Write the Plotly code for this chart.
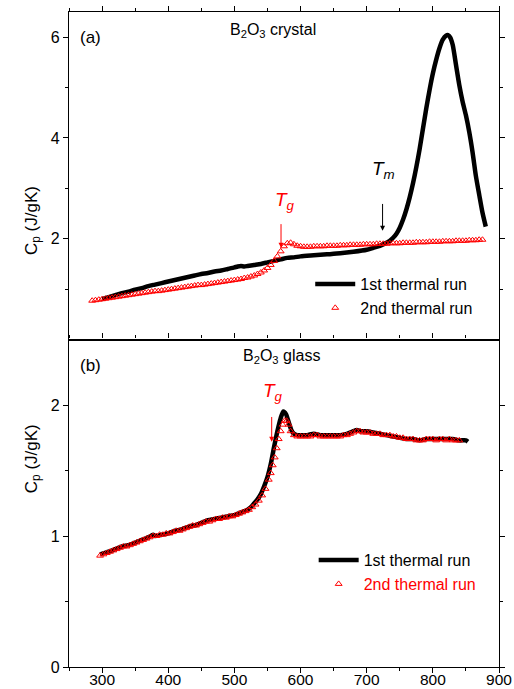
import plotly.graph_objects as go

# ---------------- data: panel (a) B2O3 crystal ----------------
a_run1_T = [300, 310, 320, 330, 340, 350, 360, 370, 380, 390, 400, 410, 420, 430, 440, 450,
            460, 470, 480, 490, 500, 505, 510, 515, 520, 530, 540, 550, 560, 570, 580, 590,
            600, 620, 640, 660, 680, 700, 710, 720, 730, 735, 740, 745, 750, 755, 760, 765,
            770, 775, 780, 785, 790, 795, 800, 805, 810, 815, 820, 823, 826, 830, 835, 840,
            845, 850, 855, 860, 865, 870, 875, 880]
a_run1_Cp = [0.80, 0.84, 0.88, 0.92, 0.95, 0.99, 1.02, 1.06, 1.09, 1.12, 1.15, 1.18, 1.21, 1.24, 1.27, 1.30,
             1.32, 1.35, 1.37, 1.40, 1.43, 1.45, 1.46, 1.45, 1.46, 1.48, 1.50, 1.53, 1.56, 1.59, 1.62, 1.63,
             1.65, 1.67, 1.69, 1.71, 1.74, 1.78, 1.82, 1.86, 1.92, 1.96, 2.02, 2.10, 2.22, 2.38, 2.58, 2.82,
             3.10, 3.42, 3.78, 4.18, 4.58, 4.95, 5.28, 5.55, 5.78, 5.95, 6.03, 6.04, 6.00, 5.85, 5.45, 5.05,
             4.72, 4.45, 4.12, 3.72, 3.25, 2.88, 2.52, 2.24]

a_run2_T = [285, 290, 295, 300, 305, 310, 315, 320, 325, 330, 335, 340, 345, 350, 355, 360,
            365, 370, 375, 380, 385, 390, 395, 400, 405, 410, 415, 420, 425, 430, 435, 440,
            445, 450, 455, 460, 465, 470, 475, 480, 485, 490, 495, 500, 505, 510, 515, 520,
            525, 530, 535, 540, 545, 550, 555, 560, 565, 570, 575, 580, 585, 590, 595, 600,
            605, 610, 615, 620, 625, 630, 635, 640, 645, 650, 655, 660, 665, 670, 675, 680,
            685, 690, 695, 700, 705, 710, 715, 720, 725, 730, 735, 740, 745, 750, 755, 760,
            765, 770, 775, 780, 785, 790, 795, 800, 805, 810, 815, 820, 825, 830, 835, 840,
            845, 850, 855, 860, 865, 870, 875]
a_run2_Cp = [0.77, 0.78, 0.79, 0.80, 0.81, 0.82, 0.83, 0.84, 0.85, 0.86, 0.87, 0.88, 0.89, 0.90, 0.91, 0.92,
             0.93, 0.94, 0.95, 0.96, 0.96, 0.97, 0.98, 0.99, 1.00, 1.01, 1.02, 1.03, 1.04, 1.05, 1.06, 1.07,
             1.08, 1.08, 1.09, 1.10, 1.11, 1.12, 1.13, 1.14, 1.15, 1.16, 1.17, 1.18, 1.19, 1.20, 1.22, 1.23,
             1.25, 1.27, 1.30, 1.33, 1.37, 1.42, 1.48, 1.56, 1.65, 1.75, 1.85, 1.91, 1.92, 1.89, 1.86, 1.85,
             1.84, 1.84, 1.84, 1.85, 1.85, 1.85, 1.85, 1.86, 1.86, 1.86, 1.86, 1.87, 1.87, 1.87, 1.88, 1.88,
             1.88, 1.88, 1.89, 1.89, 1.89, 1.89, 1.90, 1.90, 1.90, 1.90, 1.91, 1.91, 1.91, 1.91, 1.92, 1.92,
             1.92, 1.92, 1.93, 1.93, 1.93, 1.93, 1.94, 1.94, 1.94, 1.94, 1.95, 1.95, 1.95, 1.95, 1.96, 1.96,
             1.96, 1.96, 1.97, 1.97, 1.97, 1.98, 1.98]

# ---------------- data: panel (b) B2O3 glass ----------------
b_run1_T = [297, 310, 320, 330, 340, 350, 360, 370, 377, 380, 390, 400, 410, 420, 430, 437,
            440, 450, 460, 470, 480, 490, 500, 510, 520, 525, 530, 535, 540, 545, 550, 555,
            560, 565, 570, 574, 578, 582, 586, 590, 595, 600, 610, 620, 630, 640, 650, 660,
            670, 680, 685, 690, 700, 710, 720, 730, 740, 750, 760, 770, 780, 790, 800, 810,
            820, 830, 840, 850, 853]
b_run1_Cp = [0.86, 0.88, 0.90, 0.92, 0.93, 0.95, 0.97, 0.99, 1.01, 1.00, 1.01, 1.02, 1.04, 1.05, 1.07, 1.08,
             1.08, 1.10, 1.12, 1.13, 1.14, 1.15, 1.16, 1.18, 1.20, 1.22, 1.25, 1.28, 1.32, 1.38, 1.45, 1.55,
             1.68, 1.80, 1.90, 1.95, 1.93, 1.87, 1.81, 1.78, 1.77, 1.77, 1.77, 1.78, 1.77, 1.77, 1.77, 1.77,
             1.78, 1.80, 1.81, 1.80, 1.80, 1.79, 1.78, 1.77, 1.76, 1.75, 1.74, 1.74, 1.73, 1.74, 1.74, 1.74,
             1.74, 1.74, 1.73, 1.73, 1.72]

b_run2_T = [297, 302, 307, 312, 317, 322, 327, 332, 337, 342, 347, 352, 357, 362, 367, 372,
            377, 382, 387, 392, 397, 402, 407, 412, 417, 422, 427, 432, 437, 442, 447, 452,
            457, 462, 467, 472, 477, 482, 487, 492, 497, 502, 507, 512, 517, 522, 527, 532,
            537, 542, 547, 552, 555, 558, 561, 564, 567, 570, 573, 576, 579, 582, 585, 590,
            595, 600, 605, 610, 615, 620, 625, 630, 635, 640, 645, 650, 655, 660, 665, 670,
            675, 680, 685, 690, 695, 700, 705, 710, 715, 720, 725, 730, 735, 740, 745, 750,
            755, 760, 765, 770, 775, 780, 785, 790, 795, 800, 805, 810, 815, 820, 825, 830,
            835, 840]
b_run2_Cp = [0.85, 0.86, 0.87, 0.88, 0.89, 0.90, 0.91, 0.92, 0.92, 0.93, 0.94, 0.95, 0.96, 0.97, 0.98, 0.99,
             1.00, 1.00, 1.01, 1.01, 1.02, 1.02, 1.03, 1.04, 1.04, 1.05, 1.06, 1.07, 1.08, 1.08, 1.09, 1.10,
             1.11, 1.11, 1.12, 1.13, 1.13, 1.14, 1.14, 1.15, 1.15, 1.16, 1.17, 1.18, 1.19, 1.20, 1.22, 1.24,
             1.27, 1.31, 1.36, 1.43, 1.48, 1.54, 1.60, 1.67, 1.74, 1.80, 1.85, 1.88, 1.88, 1.85, 1.80, 1.77,
             1.76, 1.76, 1.76, 1.76, 1.76, 1.77, 1.77, 1.76, 1.76, 1.76, 1.76, 1.76, 1.76, 1.76, 1.77, 1.77,
             1.78, 1.79, 1.80, 1.80, 1.79, 1.79, 1.79, 1.78, 1.78, 1.78, 1.77, 1.77, 1.77, 1.76, 1.76, 1.75,
             1.75, 1.74, 1.74, 1.74, 1.73, 1.73, 1.73, 1.74, 1.74, 1.74, 1.73, 1.74, 1.74, 1.73, 1.74, 1.73,
             1.73, 1.73]

x_ticks = [300, 400, 500, 600, 700, 800, 900]

FONT = "Arial, 'Liberation Sans', sans-serif"
RED = "#ff0000"

fig = go.Figure()

# panel (a)
fig.add_trace(go.Scatter(x=a_run1_T, y=a_run1_Cp, mode="lines", name="1st thermal run",
                         line=dict(color="black", width=4.5, shape="spline", smoothing=0.6),
                         xaxis="x2", yaxis="y2", legend="legend"))
fig.add_trace(go.Scatter(x=a_run2_T, y=a_run2_Cp, mode="markers", name="2nd thermal run",
                         marker=dict(symbol="triangle-up-open", size=6, color=RED, line=dict(width=1, color=RED)),
                         xaxis="x2", yaxis="y2", legend="legend"))
# panel (b)
fig.add_trace(go.Scatter(x=b_run1_T, y=b_run1_Cp, mode="lines", name="1st thermal run",
                         line=dict(color="black", width=4.5, shape="spline", smoothing=0.6),
                         xaxis="x", yaxis="y", legend="legend2"))
fig.add_trace(go.Scatter(x=b_run2_T, y=b_run2_Cp, mode="markers",
                         name='<span style="color:#ff0000">2nd thermal run</span>',
                         marker=dict(symbol="triangle-up-open", size=6, color=RED, line=dict(width=1, color=RED)),
                         xaxis="x", yaxis="y", legend="legend2"))

axis_common = dict(showline=True, linecolor="black", linewidth=1.3, showgrid=False, zeroline=False,
                   ticks="outside", ticklen=5, tickwidth=1.2, tickcolor="black", automargin=False,
                   ticklabeloverflow="allow",
                   tickfont=dict(family=FONT, size=16, color="black"))
minor_x = dict(dtick=50, tick0=250, ticks="outside", ticklen=3, tickwidth=1.2, tickcolor="black")

fig.update_layout(
    width=514, height=689,
    margin=dict(l=69, r=15, t=12, b=22, autoexpand=False),
    paper_bgcolor="white", plot_bgcolor="white",
    font=dict(family=FONT, color="black"),
    showlegend=True,
    xaxis=dict(axis_common, range=[250, 900], tickvals=x_ticks, mirror="ticks", anchor="y", minor=minor_x,
               ticklabelstandoff=-7, tickfont=dict(family=FONT, size=15.5, color="black")),
    yaxis=dict(axis_common, domain=[0, 0.5], range=[0, 2.5], tickvals=[0, 1, 2], mirror="ticks", anchor="x",
               minor=dict(tickvals=[0.5, 1.5], ticks="outside", ticklen=3, tickwidth=1.2, tickcolor="black")),
    xaxis2=dict(axis_common, range=[250, 900], tickvals=x_ticks, side="top", mirror=True, anchor="y2",
                showticklabels=False, matches="x", minor=minor_x),
    yaxis2=dict(axis_common, domain=[0.5, 1], range=[0, 6.5], tickvals=[2, 4, 6], mirror="ticks", anchor="x2",
                minor=dict(tickvals=[1, 3, 5], ticks="outside", ticklen=3, tickwidth=1.2, tickcolor="black")),
    legend=dict(x=0.561, y=0.6105, xanchor="left", yanchor="top", bgcolor="rgba(0,0,0,0)",
                font=dict(family=FONT, size=16, color="black"), tracegroupgap=0, itemwidth=40),
    legend2=dict(x=0.569, y=0.189, xanchor="left", yanchor="top", bgcolor="rgba(0,0,0,0)",
                 font=dict(family=FONT, size=16, color="black"), tracegroupgap=0, itemwidth=40),
)

ann = []
# y-axis titles
ann.append(dict(x=-0.114, y=0.738, xref="paper", yref="paper", text="C<sub>p</sub> (J/gK)", textangle=-90,
                showarrow=False, font=dict(family=FONT, size=17)))
ann.append(dict(x=-0.114, y=0.263, xref="paper", yref="paper", text="C<sub>p</sub> (J/gK)", textangle=-90,
                showarrow=False, font=dict(family=FONT, size=17)))
ann.append(dict(x=282, y=6.0, xref="x2", yref="y2", text="(a)", showarrow=False,
                font=dict(family=FONT, size=17)))
ann.append(dict(x=282, y=2.30, xref="x", yref="y", text="(b)", showarrow=False,
                font=dict(family=FONT, size=17)))
ann.append(dict(x=558, y=6.14, xref="x2", yref="y2", text="B<sub>2</sub>O<sub>3</sub> crystal",
                showarrow=False, font=dict(family=FONT, size=16)))
ann.append(dict(x=571, y=2.37, xref="x", yref="y", text="B<sub>2</sub>O<sub>3</sub> glass",
                showarrow=False, font=dict(family=FONT, size=16)))
# T_g (a)
ann.append(dict(x=577, y=2.74, xref="x2", yref="y2", text="<i>T</i><sub><i>g</i></sub>",
                showarrow=False, font=dict(family=FONT, size=19, color=RED)))
ann.append(dict(x=570.5, y=1.82, ax=570.5, ay=2.32, xref="x2", yref="y2", axref="x2", ayref="y2", text="",
                showarrow=True, arrowhead=2, arrowsize=1, arrowwidth=1, arrowcolor=RED))
# T_m (a)
ann.append(dict(x=726, y=3.36, xref="x2", yref="y2", text="<i>T</i><sub><i>m</i></sub>",
                showarrow=False, font=dict(family=FONT, size=19, color="black")))
ann.append(dict(x=724, y=2.16, ax=724, ay=2.72, xref="x2", yref="y2", axref="x2", ayref="y2", text="",
                showarrow=True, arrowhead=2, arrowsize=1, arrowwidth=1, arrowcolor="black"))
# T_g (b)
ann.append(dict(x=559, y=2.10, xref="x", yref="y", text="<i>T</i><sub><i>g</i></sub>",
                showarrow=False, font=dict(family=FONT, size=19, color=RED)))
ann.append(dict(x=556.4, y=1.72, ax=556.4, ay=1.92, xref="x", yref="y", axref="x", ayref="y", text="",
                showarrow=True, arrowhead=2, arrowsize=1, arrowwidth=1, arrowcolor=RED))
fig.update_layout(annotations=ann)

post = ("document.documentElement.style.margin='0';document.body.style.margin='0';"
        "document.body.style.padding='0';document.body.style.overflow='hidden';"
        "Plotly.relayout('{plot_id}', {width: 514, height: 689});")
fig.write_html("out.html", post_script=post, config={"responsive": False, "displayModeBar": False})
